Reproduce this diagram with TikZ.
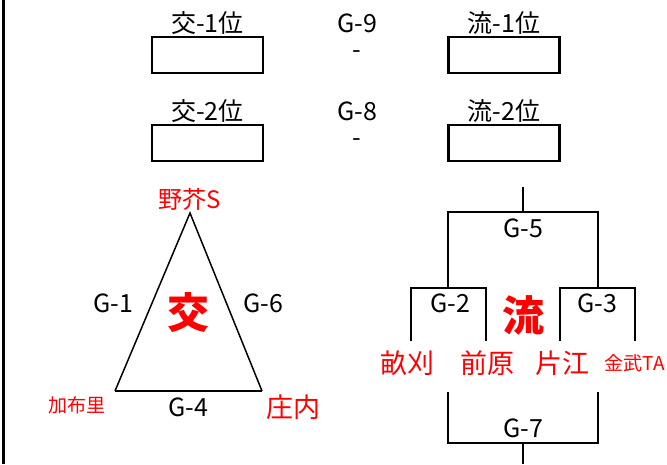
\documentclass[tikz,border=0pt]{standalone}
\usepackage{fontspec}
\setmainfont{Noto Sans CJK JP}
\usepackage{tikz}
\usetikzlibrary{positioning, calc}

\begin{document}
\begin{tikzpicture}[x=1pt, y=-1pt,
				SeedBox/.style={rectangle, draw=black, line width=2.5pt, minimum width=111pt, minimum height=36pt, inner sep=0pt},
				GameLabel/.style={inner sep=0pt, font=\fontsize{25}{25}\selectfont},
				TeamLabel/.style={inner sep=0pt, text=red, font=\fontsize{27}{27}\selectfont},
				SmallTeam/.style={inner sep=0pt, text=red, font=\fontsize{19}{19}\selectfont},
				BigMark/.style={inner sep=0pt, text=red, font=\fontsize{42}{42}\selectfont\bfseries},
				Bracket/.style={line width=2.5pt}]

			\useasboundingbox (0, 0) rectangle (667, 464);

			% Frame
			\draw[line width=3pt] (3, 0) -- (3, 464);

			% Nodes
			\node[SeedBox] (Kou1) at (207.5, 55) {};
			\node[SeedBox] (Kou2) at (207.5, 143) {};
			\node[SeedBox] (Ryu1) at (504, 55) {};
			\node[SeedBox] (Ryu2) at (504, 143) {};

			\node[GameLabel, anchor=south] (Kou1L) at ([yshift=1pt]Kou1.north) {交-1位};
			\node[GameLabel, anchor=south] (Kou2L) at ([yshift=1pt]Kou2.north) {交-2位};
			\node[GameLabel, anchor=south] (Ryu1L) at ([yshift=1pt]Ryu1.north) {流-1位};
			\node[GameLabel, anchor=south] (Ryu2L) at ([yshift=1pt]Ryu2.north) {流-2位};

			\node[GameLabel] (G9) at (357, 23) {G-9};
			\node[GameLabel] (G9dash) at (357, 55) {-};
			\node[GameLabel] (G8) at (357, 111) {G-8};
			\node[GameLabel] (G8dash) at (357, 143) {-};

			% Triangle
			\coordinate (Apex) at (190, 213);
			\coordinate (BaseL) at (115, 391);
			\coordinate (BaseR) at (262, 391);

			\node[TeamLabel, font=\fontsize{24}{24}\selectfont] (Noke) at (190, 199) {野芥S};
			\node[SmallTeam] (Kafuri) at (77, 405) {加布里};
			\node[TeamLabel] (Shonai) at (293, 407) {庄内};
			\node[BigMark] (Kou) at (188, 313) {交};
			\node[GameLabel] (G1) at (113, 303) {G-1};
			\node[GameLabel] (G6) at (263, 303) {G-6};
			\node[GameLabel] (G4) at (188, 407) {G-4};

			\draw[line width=1.5pt, line join=miter] (BaseL) -- (Apex) -- (BaseR);
			\draw[line width=2.5pt] (BaseL) -- (BaseR);

			% Bracket
			\coordinate (TopIn) at (523, 187);
			\coordinate (G5Mid) at (523, 212);
			\coordinate (G5L) at (448, 212);
			\coordinate (G5R) at (598, 212);
			\coordinate (G2Mid) at (448, 288);
			\coordinate (G3Mid) at (598, 288);
			\coordinate (G2L) at (411, 288);
			\coordinate (G2R) at (486, 288);
			\coordinate (G3L) at (560, 288);
			\coordinate (G3R) at (635, 288);
			\coordinate (UnekaEnd) at (411, 341);
			\coordinate (MaebaruEnd) at (486, 341);
			\coordinate (KataeEnd) at (560, 341);
			\coordinate (KanetakeEnd) at (635, 341);
			\coordinate (G7L) at (448, 392);
			\coordinate (G7R) at (598, 392);
			\coordinate (G7BL) at (448, 443);
			\coordinate (G7BR) at (598, 443);
			\coordinate (G7Mid) at (523, 443);
			\coordinate (BottomOut) at (523, 464);

			\node[TeamLabel] (Uneka) at (407, 363) {畝刈};
			\node[TeamLabel] (Maebaru) at (487, 363) {前原};
			\node[TeamLabel] (Katae) at (562, 363) {片江};
			\node[SmallTeam] (Kanetake) at (635, 363) {金武TA};
			\node[BigMark] (Ryu) at (523, 315) {流};
			\node[GameLabel] (G5) at (523, 228) {G-5};
			\node[GameLabel] (G2) at (450, 303) {G-2};
			\node[GameLabel] (G3) at (597, 303) {G-3};
			\node[GameLabel] (G7) at (523, 428) {G-7};

			% Lines
			\draw[Bracket] (TopIn) -- (G5Mid);
			\draw[Bracket] (G2Mid) -- (G5L) -- (G5R) -- (G3Mid);
			\draw[Bracket] (UnekaEnd) -- (G2L) -- (G2R) -- (MaebaruEnd);
			\draw[Bracket] (KataeEnd) -- (G3L) -- (G3R) -- (KanetakeEnd);
			\draw[Bracket] (G7L) -- (G7BL) -- (G7BR) -- (G7R);
			\draw[Bracket] (G7Mid) -- (BottomOut);
		\end{tikzpicture}
\end{document}
